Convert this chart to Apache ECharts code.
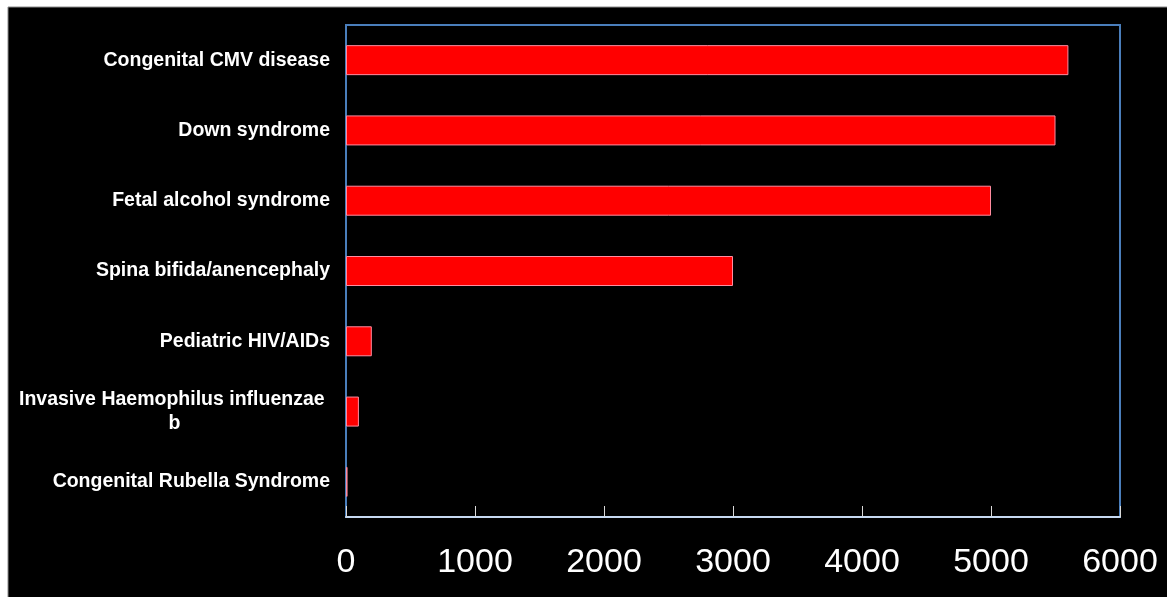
<!DOCTYPE html>
<html>
<head>
<meta charset="utf-8">
<script src="https://cdn.jsdelivr.net/npm/echarts@6/dist/echarts.min.js"></script>
<style>html,body{margin:0;padding:0;background:#fff;}#c{width:1167px;height:597px;}</style>
</head>
<body>
<div id="c"></div>
<script>
const categories = [
  'Congenital Rubella Syndrome',
  'Invasive Haemophilus influenzae b',
  'Pediatric HIV/AIDs',
  'Spina bifida/anencephaly',
  'Fetal alcohol syndrome',
  'Down syndrome',
  'Congenital CMV disease'
];
const values = [12, 100, 200, 3000, 5000, 5500, 5600];
const xTicks = [0, 1000, 2000, 3000, 4000, 5000, 6000];

const FONT = 'Liberation Sans, Arial, sans-serif';
const chart = echarts.init(document.getElementById('c'), null, {renderer: 'canvas'});
chart.setOption({
  backgroundColor: '#ffffff',
  animation: false,
  graphic: [{
    type: 'rect', z: -10, silent: true,
    shape: {x: 8, y: 7, width: 1170, height: 600},
    style: {fill: '#000000', stroke: '#8a8a8a', lineWidth: 1}
  }],
  grid: {
    left: 346, top: 25, right: 47, bottom: 80,
    show: true, borderColor: '#4a7ebb', borderWidth: 2, backgroundColor: 'transparent'
  },
  xAxis: {
    type: 'value', min: xTicks[0], max: xTicks[xTicks.length - 1], interval: 1000,
    axisLine: {show: true, lineStyle: {color: '#c6d9f1', width: 2}},
    axisTick: {show: true, inside: true, length: 11, lineStyle: {color: '#d9d9d9', width: 1}},
    splitLine: {show: false},
    axisLabel: {color: '#ffffff', fontSize: 34, fontFamily: FONT, margin: 29,
      formatter: function (v) { return String(v); }}
  },
  yAxis: {
    type: 'category', data: categories,
    axisLine: {show: true, lineStyle: {color: '#4a7ebb', width: 2}},
    axisTick: {show: false},
    axisLabel: {
      color: '#ffffff', fontSize: 19.5, fontWeight: 'bold', margin: 16, fontFamily: FONT,
      formatter: function (v) {
        if (v === 'Invasive Haemophilus influenzae b') {
          return '{a|Invasive Haemophilus influenzae }\n{b|b}';
        }
        return v;
      },
      rich: {
        a: {color: '#ffffff', fontSize: 19.5, fontWeight: 'bold', fontFamily: FONT, lineHeight: 24},
        b: {color: '#ffffff', fontSize: 19.5, fontWeight: 'bold', fontFamily: FONT, lineHeight: 24, width: 300, align: 'center'}
      }
    }
  },
  series: [{
    type: 'bar', data: values, barWidth: 30,
    itemStyle: {color: '#ff0000', borderColor: '#ff8ca0', borderWidth: 1}
  }]
});
</script>
</body>
</html>
